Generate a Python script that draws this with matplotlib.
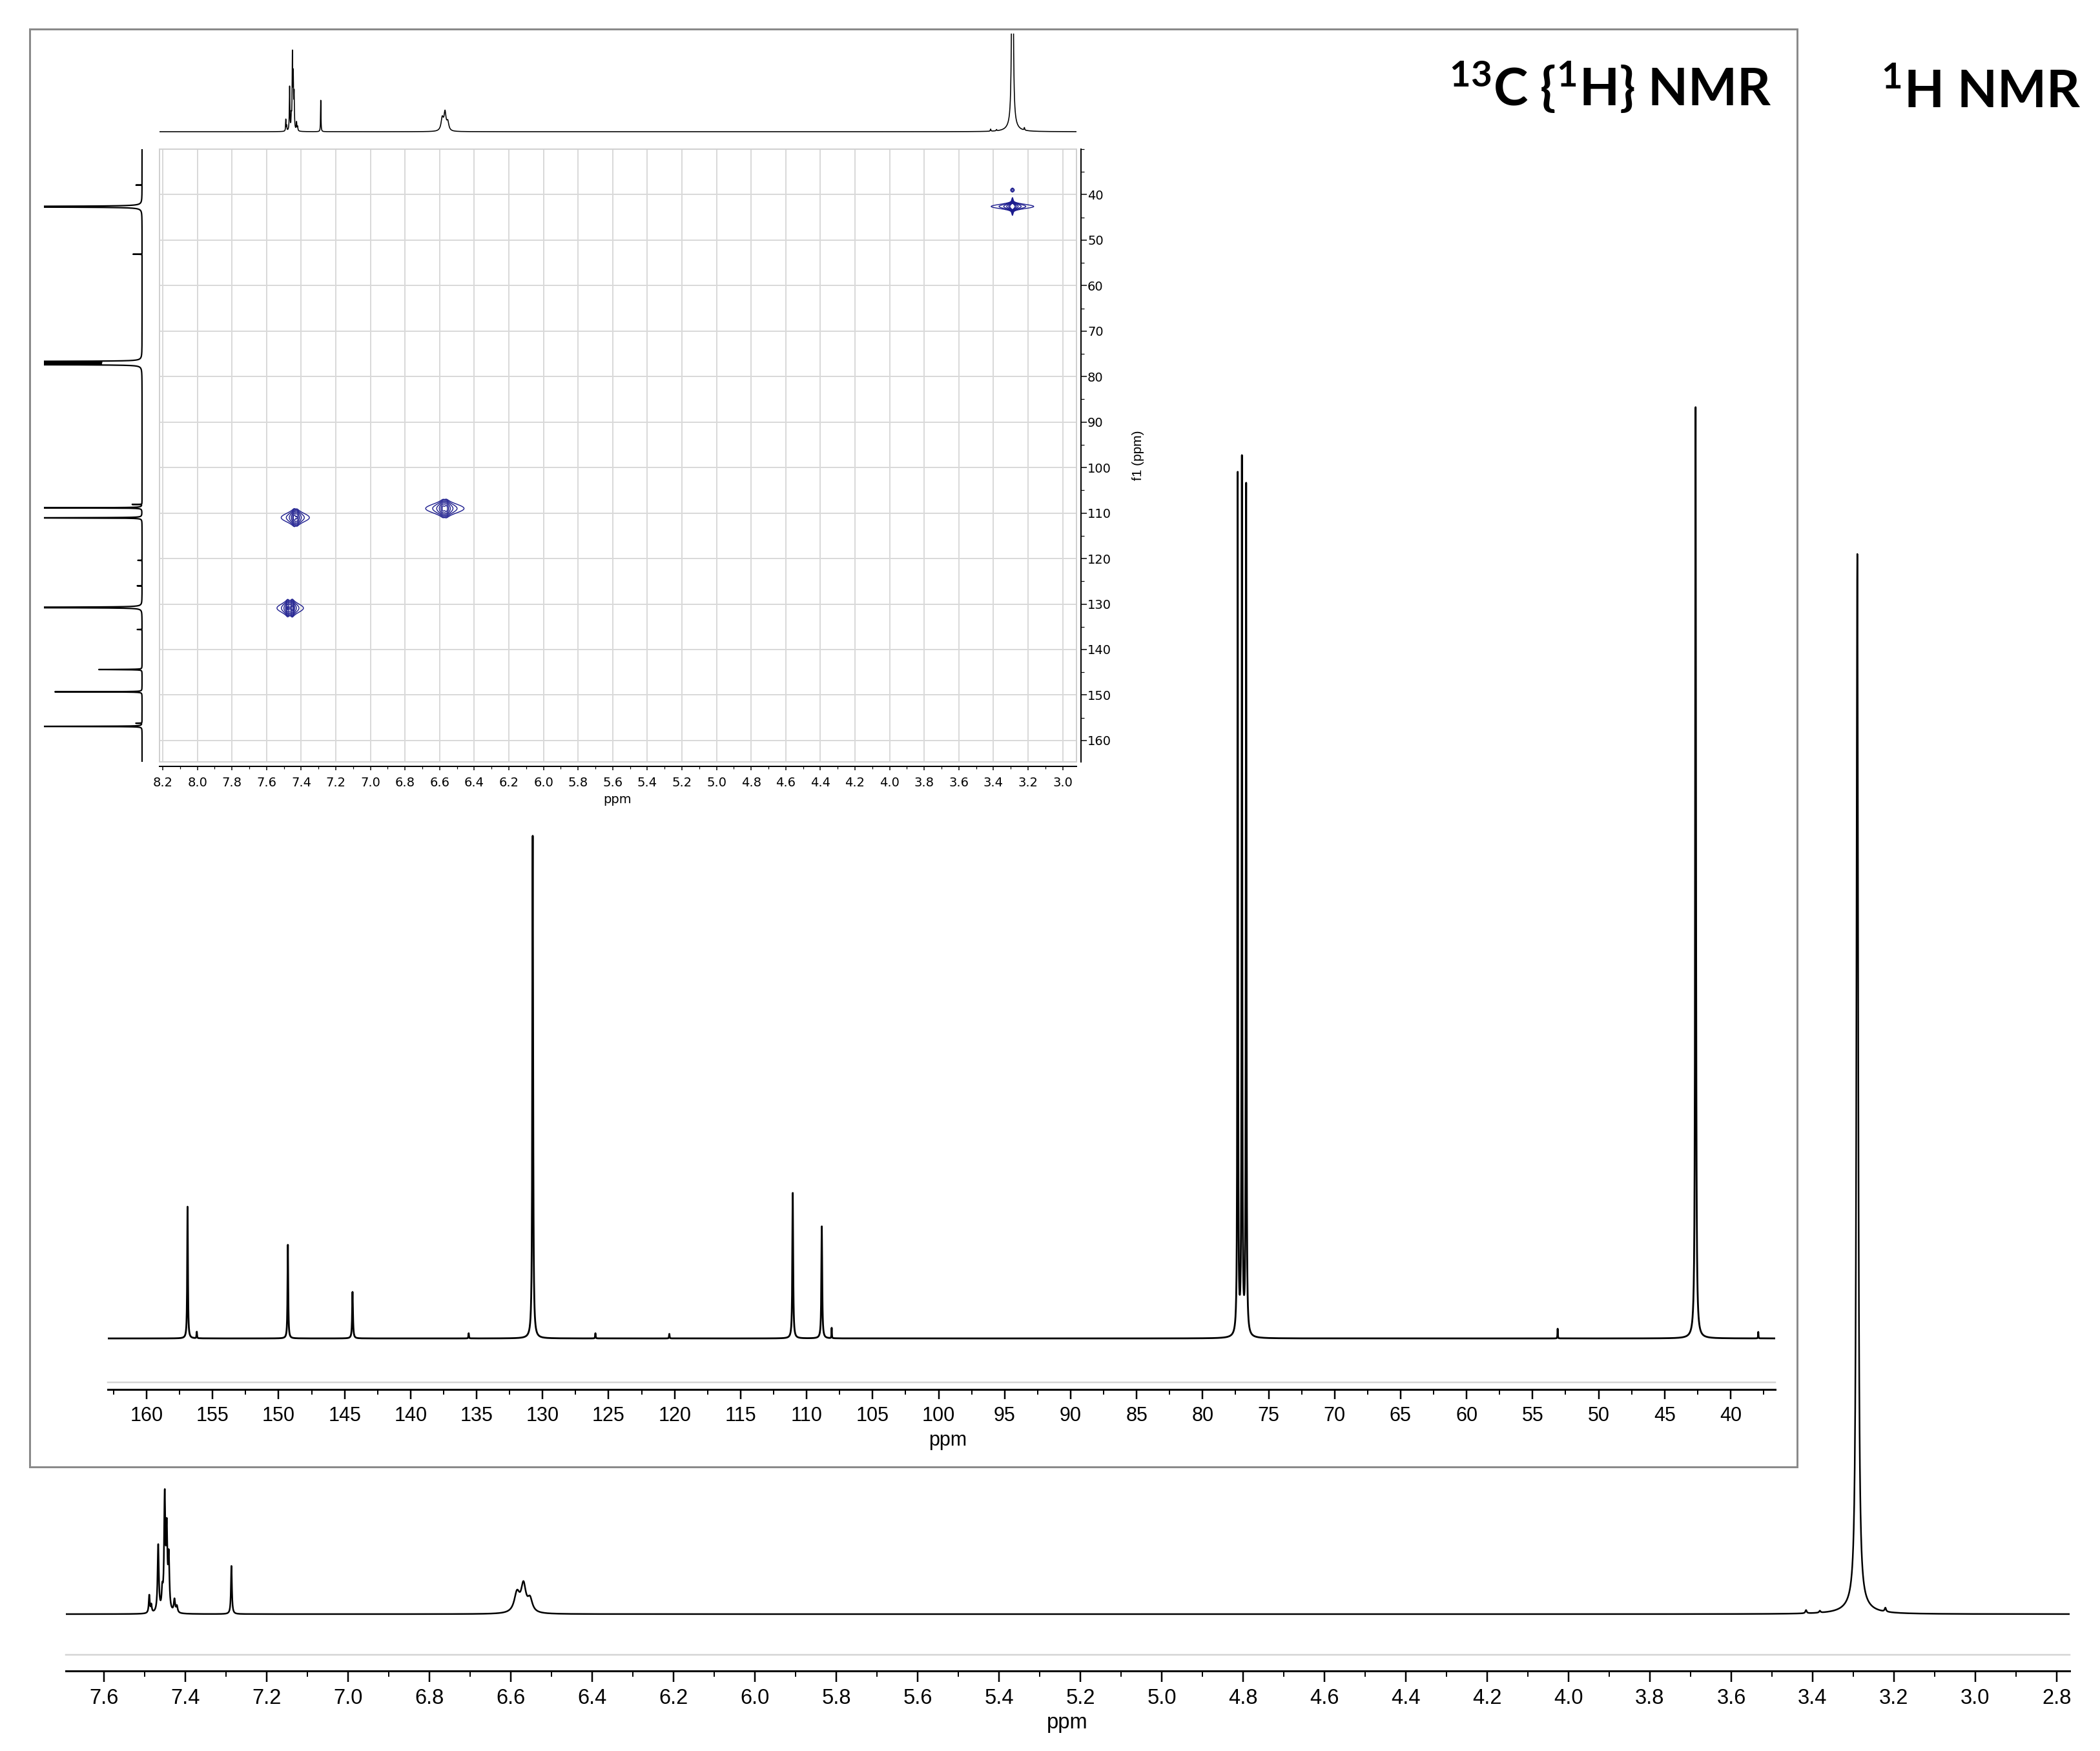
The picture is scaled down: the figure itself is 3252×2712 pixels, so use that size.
import numpy as np
import matplotlib
matplotlib.use("Agg")
import matplotlib.pyplot as plt
from matplotlib.patches import Rectangle
from matplotlib.lines import Line2D
from matplotlib.ticker import MultipleLocator, FixedLocator

# ---------------- data ----------------
# 1H NMR peak list: chemical shift (ppm), height, half width (ppm)
h1_ppm    = [7.489, 7.484, 7.467, 7.457, 7.451, 7.446, 7.441, 7.427, 7.421, 7.287,
             6.585, 6.569, 6.553, 3.416, 3.382, 3.290, 3.290, 3.221]
h1_height = [28, 12, 105, 28, 175, 118, 80, 20, 10, 76,
             30, 42, 20, 5, 3, 1630, 12, 6]
h1_hwhm   = [0.0015, 0.0015, 0.0018, 0.0018, 0.0018, 0.0018, 0.0018, 0.002, 0.002, 0.0014,
             0.008, 0.007, 0.007, 0.002, 0.002, 0.0025, 0.03, 0.002]

# 13C{1H} NMR peak list
c13_ppm    = [156.9, 156.2, 149.3, 144.4, 135.6, 130.75, 126.0, 120.4, 111.05, 108.85,
              108.1, 77.34, 77.02, 76.70, 53.1, 42.65, 37.9]
c13_height = [204, 10, 145, 72, 8, 781, 8, 7, 226, 174,
              16, 1332, 1352, 1315, 15, 1447, 10]
c13_hwhm   = [0.03, 0.02, 0.03, 0.035, 0.02, 0.035, 0.02, 0.02, 0.035, 0.035,
              0.015, 0.025, 0.025, 0.025, 0.015, 0.035, 0.015]

# HSQC cross peaks: 1H shift, 13C shift, amplitude, 1H half width, 13C sd
hsqc_h   = [3.290, 3.290, 3.290, 7.440, 7.425, 7.478, 7.452, 6.580, 6.562]
hsqc_c   = [42.6, 42.6, 39.0, 111.0, 111.0, 130.9, 130.9, 109.0, 109.0]
hsqc_amp = [5.0, 0.6, 0.05, 1.0, 0.6, 0.8, 1.0, 0.8, 1.0]
hsqc_gh  = [0.006, 0.002, 0.006, 0.007, 0.007, 0.006, 0.006, 0.009, 0.009]
hsqc_sc  = [0.32, 0.7, 0.26, 0.66, 0.66, 0.66, 0.66, 0.68, 0.68]
hsqc_levels = [0.012, 0.03, 0.07, 0.16, 0.35, 0.7]

# tick labels
h1_ticks = [7.6, 7.4, 7.2, 7.0, 6.8, 6.6, 6.4, 6.2, 6.0, 5.8, 5.6, 5.4, 5.2, 5.0,
            4.8, 4.6, 4.4, 4.2, 4.0, 3.8, 3.6, 3.4, 3.2, 3.0, 2.8]
c13_ticks = [160, 155, 150, 145, 140, 135, 130, 125, 120, 115, 110, 105, 100, 95,
             90, 85, 80, 75, 70, 65, 60, 55, 50, 45, 40]
hsqc_x_ticks = [8.2, 8.0, 7.8, 7.6, 7.4, 7.2, 7.0, 6.8, 6.6, 6.4, 6.2, 6.0, 5.8, 5.6,
                5.4, 5.2, 5.0, 4.8, 4.6, 4.4, 4.2, 4.0, 3.8, 3.6, 3.4, 3.2, 3.0]
hsqc_y_ticks = [40, 50, 60, 70, 80, 90, 100, 110, 120, 130, 140, 150, 160]


def lorentz_sum(x, pos, hgt, hw):
    y = np.zeros_like(x)
    for p, h, w in zip(pos, hgt, hw):
        y += h / (1.0 + ((x - p) / w) ** 2)
    return y


h_grid = np.arange(2.70, 8.26, 0.0004)
h_spec = lorentz_sum(h_grid, h1_ppm, h1_height, h1_hwhm)
c_grid = np.arange(29.0, 166.0, 0.004)
c_spec = lorentz_sum(c_grid, c13_ppm, c13_height, c13_hwhm)

hh = np.arange(2.90, 8.24, 0.002)
cc = np.arange(29.5, 165.5, 0.08)
Z = np.zeros((cc.size, hh.size))
for h0, c0, a, g, s in zip(hsqc_h, hsqc_c, hsqc_amp, hsqc_gh, hsqc_sc):
    Z += a * np.outer(np.exp(-0.5 * ((cc - c0) / s) ** 2), 1.0 / (1.0 + ((hh - h0) / g) ** 2))

# ---------------- layout helpers (pixel coordinates) ----------------
W, H = 3252, 2712
PT = 72.0 / 100.0
plt.rcParams['font.family'] = ['Liberation Sans', 'DejaVu Sans']
plt.rcParams['mathtext.fontset'] = 'custom'
plt.rcParams['mathtext.rm'] = 'Lato:bold'
plt.rcParams['mathtext.it'] = 'Lato:bold'
plt.rcParams['mathtext.bf'] = 'Lato:bold'
plt.rcParams['mathtext.default'] = 'rm'
fig = plt.figure(figsize=(W / 100, H / 100), dpi=100)
fig.patch.set_facecolor('white')


def frect(x0, y0, x1, y1):
    return [x0 / W, 1 - y1 / H, (x1 - x0) / W, (y1 - y0) / H]


def fx(x):
    return x / W


def fy(y):
    return 1 - y / H


# ---------------- 1H spectrum (bottom) ----------------
ax1 = fig.add_axes(frect(102, 700, 3205, 2510))
ax1.patch.set_alpha(0)
ax1.plot(h_grid, h_spec, color='black', lw=2.5 * PT)
ax1.set_xlim(7.694, 2.768)
ax1.set_ylim(-10, 1800)
for s in ('left', 'right', 'top'):
    ax1.spines[s].set_visible(False)
ax1.spines['bottom'].set_position(('outward', 78 * PT))
ax1.spines['bottom'].set_linewidth(3 * PT)
ax1.set_yticks([])
ax1.xaxis.set_major_locator(FixedLocator(h1_ticks))
ax1.set_xticklabels(['%.1f' % t for t in h1_ticks])
ax1.xaxis.set_minor_locator(MultipleLocator(0.1))
ax1.tick_params(axis='x', which='major', length=17 * PT, width=2.5 * PT, direction='out',
                pad=10 * PT, labelsize=23.5)
ax1.tick_params(axis='x', which='minor', length=9 * PT, width=2 * PT, direction='out')
fig.add_artist(Line2D([fx(102), fx(3205)], [fy(2563), fy(2563)], color='#d4d4d4', lw=2.5 * PT))
fig.text(fx(1653), fy(2669), 'ppm', ha='center', va='center', fontsize=23.5)

# ---------------- 13C box ----------------
box = Rectangle((fx(46), fy(2272)), fx(2783) - fx(46), fy(45) - fy(2272),
                transform=fig.transFigure, facecolor='white', edgecolor='#8a8a8a',
                lw=3 * PT, zorder=-1)
fig.add_artist(box)

# ---------------- 13C spectrum ----------------
ax2 = fig.add_axes(frect(167, 500, 2749, 2080))
ax2.patch.set_alpha(0)
ax2.plot(c_grid, c_spec, color='black', lw=2.8 * PT)
ax2.set_xlim(162.94, 36.62)
ax2.set_ylim(-7, 1573)
for s in ('left', 'right', 'top'):
    ax2.spines[s].set_visible(False)
ax2.spines['bottom'].set_position(('outward', 72 * PT))
ax2.spines['bottom'].set_linewidth(3 * PT)
ax2.set_yticks([])
ax2.xaxis.set_major_locator(FixedLocator(c13_ticks))
ax2.set_xticklabels([str(t) for t in c13_ticks])
ax2.xaxis.set_minor_locator(MultipleLocator(2.5))
ax2.tick_params(axis='x', which='major', length=15 * PT, width=2.5 * PT, direction='out',
                pad=11 * PT, labelsize=22)
ax2.tick_params(axis='x', which='minor', length=8 * PT, width=2 * PT, direction='out')
fig.add_artist(Line2D([fx(167), fx(2749)], [fy(2141), fy(2141)], color='#d4d4d4', lw=2.5 * PT))
fig.text(fx(1468), fy(2231), 'ppm', ha='center', va='center', fontsize=22)

# ---------------- HSQC ----------------
ax3 = fig.add_axes(frect(247, 231, 1667, 1180))
ax3.set_xlim(8.219, 2.92)
ax3.set_ylim(164.7, 30)
ax3.contour(hh, cc, Z, levels=hsqc_levels, colors='#1c1c8e', linewidths=1.4 * PT)
ax3.xaxis.set_major_locator(FixedLocator(hsqc_x_ticks))
ax3.set_xticklabels(['%.1f' % t for t in hsqc_x_ticks])
ax3.xaxis.set_minor_locator(MultipleLocator(0.1))
ax3.yaxis.set_major_locator(FixedLocator(hsqc_y_ticks))
ax3.set_yticklabels([str(t) for t in hsqc_y_ticks])
ax3.yaxis.set_minor_locator(MultipleLocator(5))
ax3.set_axisbelow(True)
ax3.grid(True, which='major', color='#d9d9d9', lw=2 * PT)
ax3.yaxis.tick_right()
for s in ('left', 'top'):
    ax3.spines[s].set_color('#d0d0d0')
    ax3.spines[s].set_linewidth(2 * PT)
ax3.spines['bottom'].set_position(('outward', 7 * PT))
ax3.spines['right'].set_position(('outward', 7 * PT))
ax3.spines['bottom'].set_linewidth(2 * PT)
ax3.spines['right'].set_linewidth(2 * PT)
ax3.add_patch(Rectangle((0, 0), 1, 1, transform=ax3.transAxes, fill=False,
                        edgecolor='#d0d0d0', lw=2 * PT, clip_on=False))
ax3.tick_params(axis='x', which='major', length=6 * PT, width=1.5 * PT, pad=10 * PT,
                labelsize=14, labelfontfamily='DejaVu Sans')
ax3.tick_params(axis='x', which='minor', length=3.5 * PT, width=1.2 * PT)
ax3.tick_params(axis='y', which='major', length=9 * PT, width=1.5 * PT, pad=1 * PT,
                labelsize=14, labelfontfamily='DejaVu Sans', right=True, left=False,
                labelright=True, labelleft=False)
ax3.tick_params(axis='y', which='minor', length=5 * PT, width=1.2 * PT, right=True, left=False)
fig.text(fx(956), fy(1238), 'ppm', ha='center', va='center', fontsize=14, family='DejaVu Sans')
fig.text(fx(1762), fy(705), 'f1 (ppm)', ha='center', va='center', fontsize=15,
         rotation=90)

# top projection (1H)
ax4 = fig.add_axes(frect(247, 52, 1667, 206))
ax4.plot(h_grid, h_spec, color='black', lw=1.6 * PT)
ax4.set_xlim(8.219, 2.92)
ax4.set_ylim(-3.06, 232.7)
ax4.axis('off')

# left projection (13C)
ax5 = fig.add_axes(frect(68, 231, 224, 1180))
ax5.plot(c_spec, c_grid, color='black', lw=2.2 * PT)
ax5.set_xlim(163.4, -4.3)
ax5.set_ylim(164.7, 30)
ax5.axis('off')

# ---------------- titles ----------------
fig.text(fx(2743), fy(163), r'$^{13}$C {$^{1}$H} NMR', ha='right', va='baseline', fontsize=58,
         fontweight='bold', family=['Lato', 'DejaVu Sans'])
fig.text(fx(3222), fy(167), r'$^{1}$H NMR', ha='right', va='baseline', fontsize=58,
         fontweight='bold', family=['Lato', 'DejaVu Sans'])

fig.savefig('out.png', dpi=100, facecolor='white')
